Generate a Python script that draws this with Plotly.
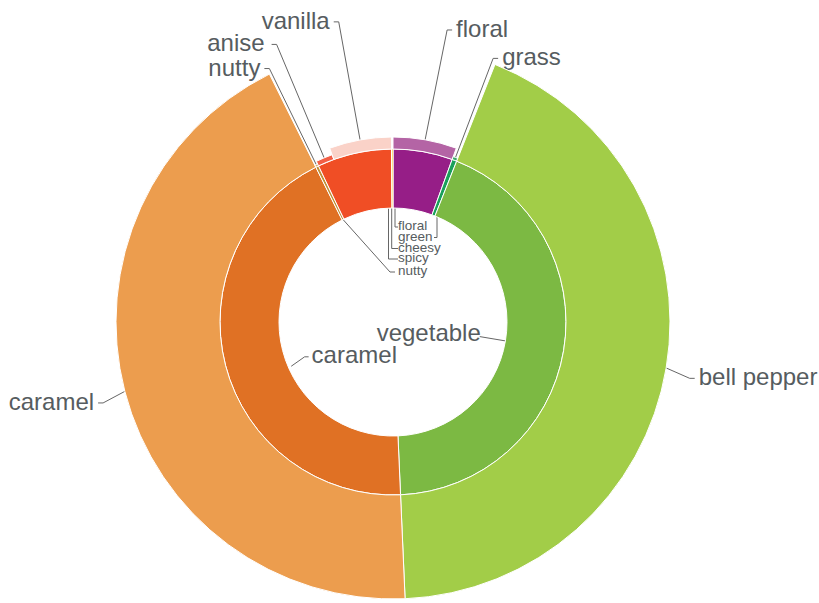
import math
import plotly.graph_objects as go

# ---------------- data ----------------
inner_labels = ["floral", "green", "vegetable", "caramel", "nutty", "spicy", "cheesy"]
inner_values = [20, 1.6, 155.9, 156, 1, 25, 0.5]
inner_colors = ["#961e87", "#1aa05a", "#7cb943", "#e07124", "#c0913a", "#f04e25", "#f7c200"]

outer_labels = ["floral", "grass", "bell pepper", "caramel", "nutty", "anise", "vanilla"]
outer_parents = ["floral", "green", "vegetable", "caramel", "nutty", "spicy", "spicy"]
outer_values = [20, 1.6, 155.9, 156, 1, 5.5, 19.5]
outer_depth = [12, 3, 104, 104, 2, 5, 12]
outer_colors = ["#b464a5", "#3aa86a", "#a2cd48", "#ec9d4e", "#d4a85a", "#f25f46", "#fad2c8"]

# ---------------- geometry / style ----------------
W, H = 819, 603
CX, CY = 393, 322
R_MAX = 280
HOLE = 114
INNER_OUT = 173
TEXT_COLOR = "#565c60"
LINE_COLOR = "#666666"
FONT = "Liberation Sans, Arial, sans-serif"

total = sum(inner_values)
scale = 360.0 / total

inner_start, inner_width = [], []
acc = 0.0
for v in inner_values:
    inner_start.append(acc * scale)
    inner_width.append(v * scale)
    acc += v
inner_mid = [s + w / 2 for s, w in zip(inner_start, inner_width)]
parent_start = dict(zip(inner_labels, inner_start))

outer_start, outer_width = [], []
used = {}
for lab, par, v in zip(outer_labels, outer_parents, outer_values):
    off = used.get(par, 0.0)
    outer_start.append(parent_start[par] + off * scale)
    outer_width.append(v * scale)
    used[par] = off + v
outer_mid = [s + w / 2 for s, w in zip(outer_start, outer_width)]


def p2xy(r, th):
    t = math.radians(th)
    return r * math.sin(t), r * math.cos(t)


fig = go.Figure()

fig.add_trace(go.Barpolar(
    theta=inner_mid, width=inner_width, r=[INNER_OUT - HOLE] * len(inner_values),
    base=HOLE, marker=dict(color=inner_colors, line=dict(color="white", width=1)),
    hoverinfo="skip", showlegend=False))

fig.add_trace(go.Barpolar(
    theta=outer_mid, width=outer_width, r=outer_depth,
    base=INNER_OUT, marker=dict(color=outer_colors, line=dict(color="white", width=1)),
    hoverinfo="skip", showlegend=False))

# ---------------- labels (cartesian overlay, 1 unit = 1 px) ----------------
lx_all, ly_all = [], []


def add_line(pts):
    for (x, y) in pts:
        lx_all.append(x)
        ly_all.append(y)
    lx_all.append(None)
    ly_all.append(None)


big_x, big_y, big_s, big_pos = [], [], [], []

outer_label_r = {"floral": 297, "grass": 282, "bell pepper": 302, "caramel": 301,
                 "nutty": 282, "anise": 301, "vanilla": 305}
outer_label_shift = {"floral": 0.5, "bell pepper": 1.2, "caramel": -1.1}
outer_label_gap = {"anise": 7, "vanilla": 4}
for lab, mid, d in zip(outer_labels, outer_mid, outer_depth):
    x0, y0 = p2xy(INNER_OUT + d, mid)
    x1, y1 = p2xy(outer_label_r[lab], mid + outer_label_shift.get(lab, 0))
    sgn = 1 if x1 >= 0 else -1
    x2 = x1 + sgn * 5
    add_line([(x0, y0), (x1, y1), (x2, y1)])
    big_x.append(x2 + sgn * outer_label_gap.get(lab, 4))
    big_y.append(y1 - 1)
    big_s.append(lab)
    big_pos.append("middle right" if sgn > 0 else "middle left")

veg = inner_labels.index("vegetable")
x0, y0 = p2xy(HOLE, inner_mid[veg])
x1, y1 = p2xy(88, inner_mid[veg])
add_line([(x0, y0), (x1, y1)])
big_x.append(x1 + 1); big_y.append(y1 + 2); big_s.append("vegetable"); big_pos.append("middle left")

car = inner_labels.index("caramel")
x0, y0 = p2xy(111, inner_mid[car] - 9)
x1, y1 = p2xy(95, inner_mid[car] - 7)
add_line([(x0, y0), (x1, y1), (x1 + 4, y1)])
big_x.append(x1 + 7); big_y.append(y1); big_s.append("caramel"); big_pos.append("middle right")

small_cfg = [
    ("floral", 2, 95, 5),
    ("green", 44, 84.5, 41),
    ("cheesy", -1.3, 73.5, 5),
    ("spicy", -4.5, 63, 5),
]
sm_x, sm_y, sm_s = [], [], []
for lab, lx, row, tick in small_cfg:
    ys = math.sqrt(HOLE ** 2 - lx ** 2)
    add_line([(lx, ys), (lx, row), (tick, row)])
    sm_x.append(5); sm_y.append(row); sm_s.append(lab)
nut = inner_labels.index("nutty")
x0, y0 = p2xy(HOLE, inner_mid[nut])
add_line([(x0, y0), (-3, 50), (2, 50)])
sm_x.append(5); sm_y.append(50); sm_s.append("nutty")

fig.add_trace(go.Scatter(
    x=lx_all, y=ly_all, mode="lines", line=dict(color=LINE_COLOR, width=1),
    connectgaps=False, cliponaxis=False, hoverinfo="skip", showlegend=False))

fig.add_trace(go.Scatter(
    x=big_x, y=big_y, mode="text", text=big_s, textposition=big_pos,
    textfont=dict(family=FONT, size=24, color=TEXT_COLOR),
    cliponaxis=False, hoverinfo="skip", showlegend=False))

fig.add_trace(go.Scatter(
    x=sm_x, y=sm_y, mode="text", text=sm_s, textposition="middle right",
    textfont=dict(family=FONT, size=13.5, color=TEXT_COLOR),
    cliponaxis=False, hoverinfo="skip", showlegend=False))

fig.update_layout(
    width=W, height=H,
    margin=dict(l=0, r=0, t=0, b=0),
    paper_bgcolor="white",
    plot_bgcolor="rgba(0,0,0,0)",
    showlegend=False,
    xaxis=dict(range=[-CX, W - CX], domain=[0, 1], visible=False, fixedrange=True),
    yaxis=dict(range=[-(H - CY), CY], domain=[0, 1], visible=False, fixedrange=True),
    polar=dict(
        domain=dict(x=[(CX - R_MAX) / W, (CX + R_MAX) / W],
                    y=[(H - CY - R_MAX) / H, (H - CY + R_MAX) / H]),
        bgcolor="rgba(0,0,0,0)",
        hole=0,
        bargap=0,
        barmode="overlay",
        radialaxis=dict(range=[0, R_MAX], visible=False, showgrid=False),
        angularaxis=dict(rotation=90, direction="clockwise", visible=False,
                         showgrid=False, showticklabels=False, showline=False),
    ),
)

fig.write_html("out.html",
               config={"displayModeBar": False},
               post_script="document.body.style.margin='0';document.body.style.overflow='hidden';")
